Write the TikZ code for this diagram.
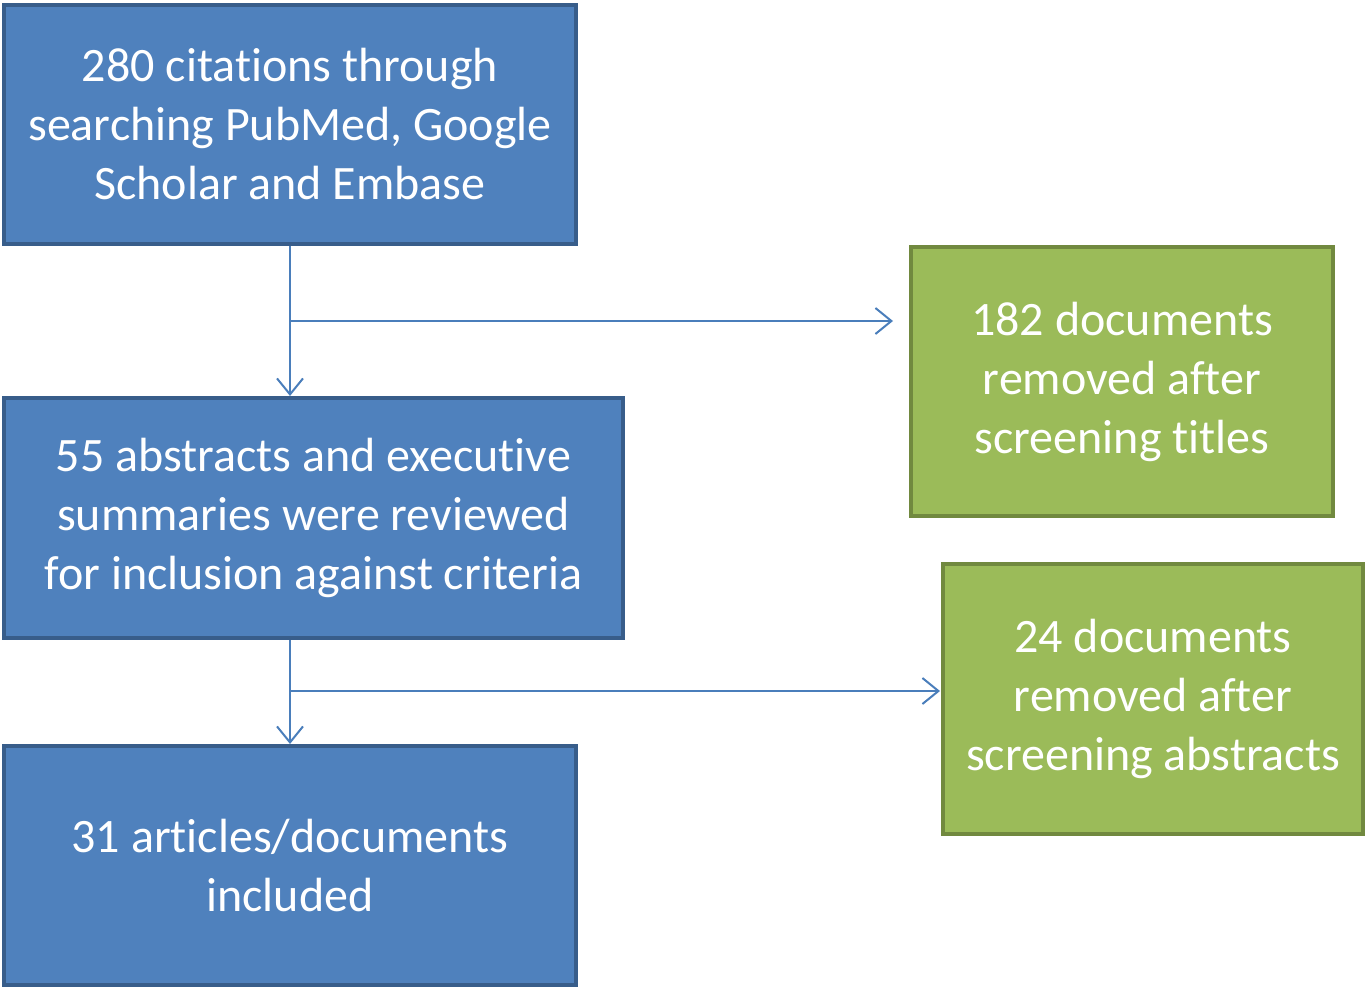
\documentclass[tikz,border=0pt]{standalone}
\usepackage{fontspec}
\setmainfont[Ligatures={NoCommon}]{Carlito}
\usetikzlibrary{arrows.meta}
\definecolor{bfill}{HTML}{4F81BD}
\definecolor{bline}{HTML}{385D8A}
\definecolor{gfill}{HTML}{9BBB59}
\definecolor{gline}{HTML}{71893F}
\definecolor{conn}{HTML}{4A7EBB}
\begin{document}
\begin{tikzpicture}[x=1pt,y=-1pt,
  box/.style={draw, line width=4pt, text=white, align=center, inner sep=0pt,
    font=\fontsize{48}{59}\selectfont},
  bluebox/.style={box, fill=bfill, draw=bline},
  greenbox/.style={box, fill=gfill, draw=gline},
  conline/.style={draw=conn, line width=2pt},
  arr/.style={conline, -{Straight Barb[length=16pt,width=26pt,line width=2pt]}}]
\useasboundingbox (0,0) rectangle (1365,987);
\node[bluebox, minimum width=572pt, minimum height=239pt] (b1) at (290,124.5)
  {280 citations through\\searching PubMed, Google\\Scholar and Embase};
\node[bluebox, minimum width=619pt, minimum height=240pt] (b2) at (313.5,518)
  {55 abstracts and executive\\summaries were reviewed\\for inclusion against criteria};
\node[bluebox, minimum width=572pt, minimum height=239pt] (b3) at (290,865.5)
  {31 articles/documents\\included};
\node[greenbox, minimum width=422pt, minimum height=269pt] (g1) at (1122,381.5)
  {182 documents\\removed after\\screening titles};
\node[greenbox, minimum width=420pt, minimum height=270pt] (g2) at (1153,699)
  {24 documents\\removed after\\screening abstracts};
\coordinate (j1) at (290,321);
\coordinate (e1) at (893,321);
\coordinate (j2) at (290,691);
\coordinate (e2) at (940,691);
\draw[arr] (b1.south) -- (b1.south |- b2.north);
\draw[arr] (j1) -- (e1);
\draw[arr] (b1.south |- b2.south) -- (b3.north);
\draw[arr] (j2) -- (e2);
\end{tikzpicture}
\end{document}
